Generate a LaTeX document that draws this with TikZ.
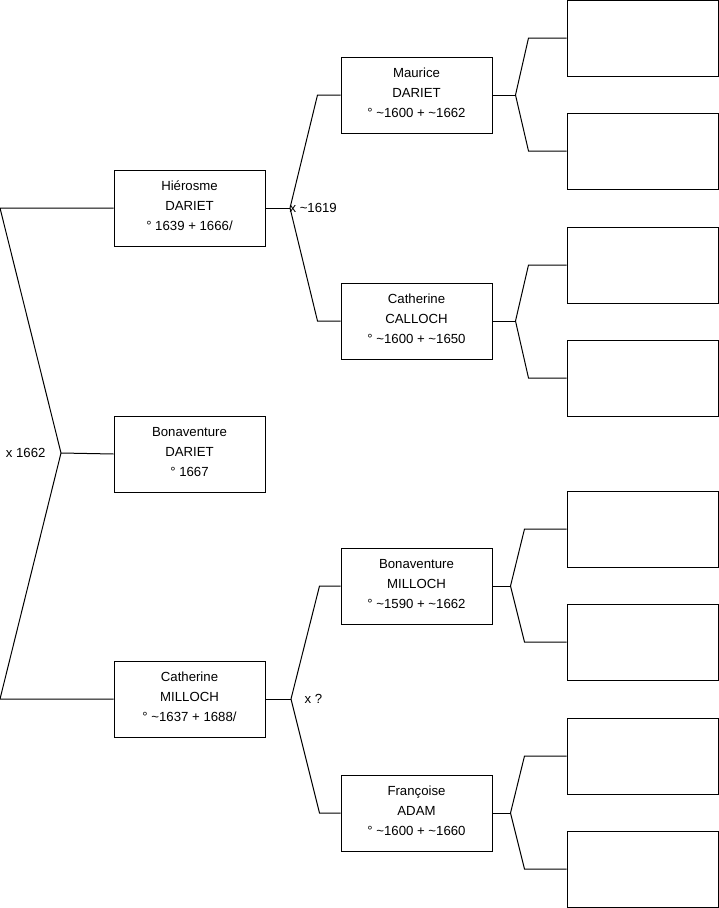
\documentclass[tikz,border=0pt]{standalone}
\usepackage{fontspec}
\setmainfont{Liberation Sans}
\usetikzlibrary{calc,positioning}

\begin{document}
\begin{tikzpicture}[
    x=1pt,
    y=-1pt,
    line width=1pt,
    every node/.style={font=\fontsize{13.2}{20}\selectfont},
    person/.style={draw,minimum width=151pt,minimum height=76pt,
        inner sep=0pt,align=center,text depth=4pt},
    marriage/.style={inner sep=0pt}
]
\useasboundingbox (0,0) rectangle (719,908);

% Child and parents
\node[person] (hierosme) at (189.5,208) {Hiérosme\\DARIET\\° 1639 + 1666/};
\node[person] (bonaventureD) at (189.5,454) {Bonaventure\\DARIET\\° 1667};
\node[person] (catherineM) at (189.5,699) {Catherine\\MILLOCH\\° \textasciitilde1637 + 1688/};

% Grandparents
\node[person] (maurice) at (416.5,95) {Maurice\\DARIET\\° \textasciitilde1600 + \textasciitilde1662};
\node[person] (catherineC) at (416.5,321) {Catherine\\CALLOCH\\° \textasciitilde1600 + \textasciitilde1650};
\node[person] (bonaventureM) at (416.5,586) {Bonaventure\\MILLOCH\\° \textasciitilde1590 + \textasciitilde1662};
\node[person] (francoise) at (416.5,813) {Françoise\\ADAM\\° \textasciitilde1600 + \textasciitilde1660};

% Empty great-grandparents
\foreach \n/\y in {g1/38,g2/151,g3/265,g4/378,g5/529,g6/642,g7/756,g8/869}
    \node[person] (\n) at (642.5,\y) {};

% Marriage x 1662
\coordinate (m0) at (61,453);
\coordinate (m0a) at (0,208);
\coordinate (m0b) at (0,699);
\draw (hierosme.west) -- (m0a) -- (m0) -- (m0b) -- (catherineM.west);
\draw (m0) -- (bonaventureD.west);
\node[marriage,left=15pt of m0] (x0) {x 1662};

% Marriages of the parents
\coordinate (m1) at (290,208);
\draw (hierosme.east) -- (m1);
\draw (m1) -- ($(maurice.west)+(-23,0)$) -- (maurice.west);
\draw (m1) -- ($(catherineC.west)+(-23,0)$) -- (catherineC.west);
\node[marriage,anchor=west] (x1) at ($(m1)+(-1,0)$) {x \textasciitilde1619};

\coordinate (m2) at (291,699);
\draw (catherineM.east) -- (m2);
\draw (m2) -- ($(bonaventureM.west)+(-21,0)$) -- (bonaventureM.west);
\draw (m2) -- ($(francoise.west)+(-21,0)$) -- (francoise.west);
\node[marriage,right=13pt of m2] (x2) {x ?};

% Forks to the empty boxes
\foreach \p/\a/\b/\f/\c in {maurice/g1/g2/23/38,catherineC/g3/g4/23/38,
        bonaventureM/g5/g6/18/42,francoise/g7/g8/18/42}{
    \coordinate (\p-x) at ($(\p.east)+(\f,0)$);
    \draw (\p.east) -- (\p-x);
    \draw (\p-x) -- ($(\a.west)+(-\c,0)$) -- (\a.west);
    \draw (\p-x) -- ($(\b.west)+(-\c,0)$) -- (\b.west);
}

\end{tikzpicture}
\end{document}
